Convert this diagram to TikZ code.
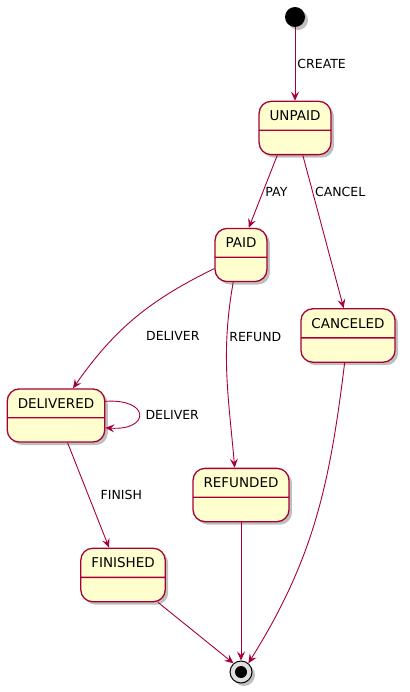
\documentclass[tikz,border=0pt]{standalone}
\usepackage{fontspec}
\setmainfont{DejaVu Sans}
\usetikzlibrary{positioning,shapes.multipart,shadows,arrows.meta}
\definecolor{umlred}{HTML}{A80036}
\definecolor{umlfill}{HTML}{FEFECE}

\begin{document}
\begin{tikzpicture}[
  statebox/.style={rectangle split, rectangle split parts=2, draw=umlred,
    line width=1.3pt, fill=umlfill, rounded corners=12pt,
    inner xsep=10.5pt, inner ysep=8.8pt,
    rectangle split empty part height=5pt, rectangle split empty part depth=0pt,
    font=\fontsize{13.5}{16}\selectfont,
    drop shadow={shadow xshift=3pt, shadow yshift=-3pt, fill=black, opacity=.25}},
  startstate/.style={circle, fill=black, minimum size=20pt, inner sep=0pt,
    drop shadow={shadow xshift=3pt, shadow yshift=-3pt, fill=black, opacity=.25}},
  endstate/.style={circle, draw=black, line width=1pt, fill=gray!25,
    minimum size=22pt, inner sep=0pt,
    path picture={\fill[black] (path picture bounding box.center) circle (6pt);},
    drop shadow={shadow xshift=3pt, shadow yshift=-3pt, fill=black, opacity=.25}},
  trans/.style={draw=umlred, line width=0.9pt,
    -{Stealth[length=9pt,width=8pt,inset=3.5pt]}},
  lbl/.style={font=\fontsize{12.5}{15}\selectfont, inner sep=1pt, anchor=west}
]
 \useasboundingbox (0,0) rectangle (409pt,-692pt);
 % states
 \node[startstate] (init) at (295pt,-17pt) {};
 \node[statebox, on grid, below=111pt of init] (unpaid) {UNPAID \nodepart{two}};
 \node[statebox, on grid, below left=127pt and 54pt of unpaid] (paid) {PAID \nodepart{two}};
 \node[statebox, on grid, below right=207.5pt and 53pt of unpaid] (canceled) {CANCELED \nodepart{two}};
 \node[statebox, on grid, below left=160.5pt and 185pt of paid] (delivered) {DELIVERED \nodepart{two}};
 \node[statebox, on grid, below=240pt of paid] (refunded) {REFUNDED \nodepart{two}};
 \node[statebox, on grid, below right=159.5pt and 67pt of delivered] (finished) {FINISHED \nodepart{two}};
 \node[endstate, on grid, below=177pt of refunded] (final) {};
 % transitions
 \draw[trans] (init) -- node[lbl, xshift=1pt] {CREATE} (unpaid);
 \draw[trans] (unpaid.237) -- node[lbl, xshift=1pt] {PAY} (paid.74);
 \draw[trans] (unpaid.286) -- node[lbl, pos=.24, xshift=1pt] {CANCEL} (canceled.99);
 \draw[trans] (paid.207) to[out=206, in=55]
   node[lbl, pos=.65, xshift=29pt] {DELIVER} (delivered.58);
 \draw[trans] (paid.254) to[out=260, in=95]
   node[lbl, pos=.28, xshift=1pt] {REFUND} (refunded.103);
 \draw[trans] (delivered.16) .. controls +(45pt,3pt) and +(45pt,-3pt) ..
   node[lbl, xshift=5pt] {DELIVER} (delivered.-14);
 \draw[trans] (delivered.293) -- node[lbl, xshift=11pt] {FINISH} (finished.117);
 \draw[trans] (finished.-38) -- (final.131);
 \draw[trans] (refunded) -- (final);
 \draw[trans] (canceled.263) to[out=263, in=58] (final.50);
\end{tikzpicture}
\end{document}
